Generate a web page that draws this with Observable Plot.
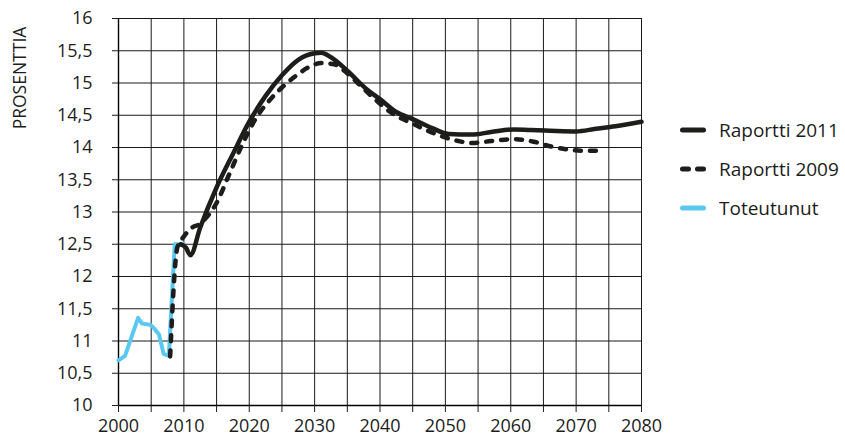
<!DOCTYPE html>
<html><head><meta charset="utf-8">
<script src="https://cdn.jsdelivr.net/npm/d3@7"></script>
<script src="https://cdn.jsdelivr.net/npm/@observablehq/plot@0.6"></script>
<style>
body{margin:0;background:#fff;}
#wrap{position:relative;width:845px;height:441px;font-family:"Open Sans",sans-serif;color:#1d1d1b;}
#ylab{position:absolute;left:19px;top:78px;transform:translate(-50%,-50%) rotate(-90deg);font-size:17.5px;white-space:nowrap;}
#legend{position:absolute;left:680px;top:110px;}
.row{display:flex;align-items:center;height:39px;font-size:19px;}
.row svg{margin-right:13px;display:block;}
</style></head><body>
<div id="wrap"><div id="chart"></div><div id="ylab">PROSENTTIA</div><div id="legend"></div></div>
<script>
// Tick values
const xGrid = d3.range(2000, 2081, 5);
const xLabels = [2000, 2010, 2020, 2030, 2040, 2050, 2060, 2070, 2080];
const yTicks = [10, 10.5, 11, 11.5, 12, 12.5, 13, 13.5, 14, 14.5, 15, 15.5, 16];

// Series names
const seriesNames = ["Raportti 2011", "Raportti 2009", "Toteutunut"];

// Raportti 2011 (solid)
const r2011Years = [2009.5, 2010.3, 2011, 2012.5, 2015, 2017.5, 2020, 2022.5, 2025, 2027.5, 2030, 2031, 2032.5, 2035, 2038, 2040, 2042.5, 2045, 2048, 2050.5, 2054, 2057, 2060.5, 2063, 2066, 2070, 2073, 2076, 2080];
const r2011Values = [12.5, 12.45, 12.33, 12.76, 13.38, 13.9, 14.4, 14.8, 15.12, 15.36, 15.46, 15.47, 15.4, 15.19, 14.9, 14.75, 14.55, 14.44, 14.3, 14.21, 14.2, 14.24, 14.28, 14.27, 14.26, 14.25, 14.29, 14.33, 14.4];

// Raportti 2009 (dashed)
const r2009Years = [2007.9, 2009, 2010, 2011, 2012.5, 2013.5, 2015, 2017, 2019, 2021, 2023, 2025, 2027, 2029, 2031, 2033, 2035, 2037, 2039, 2042, 2045, 2049, 2052, 2054, 2057, 2060.5, 2063.5, 2066, 2068.6, 2071, 2074];
const r2009Values = [10.76, 12.45, 12.62, 12.74, 12.82, 12.92, 13.14, 13.6, 14.06, 14.45, 14.72, 14.93, 15.1, 15.24, 15.31, 15.29, 15.15, 14.96, 14.77, 14.52, 14.37, 14.19, 14.1, 14.07, 14.1, 14.13, 14.09, 14.02, 13.97, 13.95, 13.95];

// Toteutunut (actual)
const toteYears = [2000, 2001, 2003, 2003.6, 2004.9, 2005.4, 2006.2, 2006.9, 2007.7, 2008.6, 2010];
const toteValues = [10.7, 10.77, 11.36, 11.27, 11.25, 11.2, 11.1, 10.8, 10.77, 12.5, 12.5];

const colors = {solid: "#1d1d1b", blue: "#5bc8f1"};
const fmt = d => String(d).replace(".", ",");
const rows = (xs, vs) => xs.map((x, i) => ({x, y: vs[i]}));

const plot = Plot.plot({
  width: 845, height: 441,
  marginLeft: 118, marginRight: 204, marginTop: 18, marginBottom: 36,
  style: {fontFamily: '"Open Sans", sans-serif', fontSize: "18px", color: "#1d1d1b", background: "transparent"},
  x: {domain: [2000, 2080]},
  y: {domain: [10, 16]},
  marks: [
    Plot.ruleX(xGrid, {stroke: "#1a1a1a", strokeWidth: 1}),
    Plot.ruleY(yTicks, {stroke: "#1a1a1a", strokeWidth: 1}),
    Plot.ruleX([2000], {stroke: "#000", strokeWidth: 1.4}),
    Plot.ruleY([10], {stroke: "#000", strokeWidth: 1.4}),
    Plot.axisX({ticks: xGrid, tickSize: 7, tickFormat: () => "", label: null}),
    Plot.axisX({ticks: xLabels, tickSize: 0, tickPadding: 14, tickFormat: d => String(d), label: null}),
    Plot.axisY({ticks: yTicks, tickSize: 6, tickPadding: 20, tickFormat: fmt, label: null}),
    Plot.line(rows(toteYears, toteValues), {x: "x", y: "y", stroke: colors.blue, strokeWidth: 4, strokeLinejoin: "round", strokeLinecap: "round"}),
    Plot.line(rows(r2011Years, r2011Values), {x: "x", y: "y", curve: "monotone-x", stroke: colors.solid, strokeWidth: 4.5, strokeLinejoin: "round"}),
    Plot.line(rows(r2009Years, r2009Values), {x: "x", y: "y", curve: "monotone-x", stroke: colors.solid, strokeWidth: 4.5, strokeDasharray: "6,9", strokeLinecap: "round"})
  ]
});
document.getElementById("chart").appendChild(plot);

const legend = document.getElementById("legend");
const swatches = [
  `<line x1="2.5" y1="5" x2="23.5" y2="5" stroke="${colors.solid}" stroke-width="5" stroke-linecap="round"/>`,
  `<line x1="2.5" y1="5" x2="23.5" y2="5" stroke="${colors.solid}" stroke-width="5" stroke-linecap="round" stroke-dasharray="6,9"/>`,
  `<line x1="2.5" y1="5" x2="23.5" y2="5" stroke="${colors.blue}" stroke-width="5" stroke-linecap="round"/>`
];
seriesNames.forEach((name, i) => {
  const r = document.createElement("div");
  r.className = "row";
  r.innerHTML = `<svg width="26" height="10">${swatches[i]}</svg><span>${name}</span>`;
  legend.appendChild(r);
});
</script>
</body></html>
